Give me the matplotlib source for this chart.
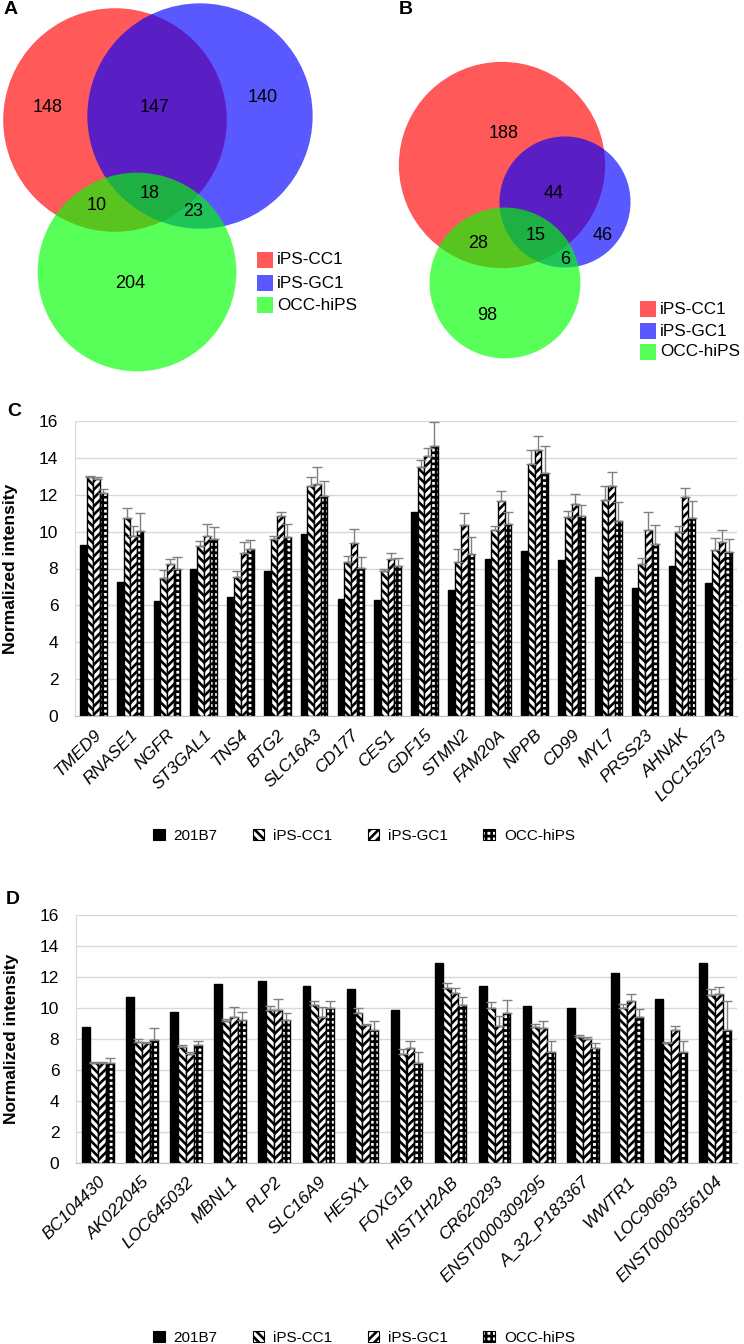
import numpy as np
import matplotlib
matplotlib.use('Agg')
import matplotlib.pyplot as plt
from matplotlib.patches import Circle, Rectangle, Patch

plt.rcParams['font.family'] = ['Liberation Sans', 'DejaVu Sans']
plt.rcParams['hatch.linewidth'] = 1.9

W, H = 744, 1344

# ---- Venn data ----
venn_sets = ['iPS-CC1', 'iPS-GC1', 'OCC-hiPS']
venn_regions = ['100', '110', '010', '101', '111', '011', '001']
counts_a = [148, 147, 140, 10, 18, 23, 204]
counts_b = [188, 44, 46, 28, 15, 6, 98]

# ---- bar data ----
groups = ['201B7', 'iPS-CC1', 'iPS-GC1', 'OCC-hiPS']

genes_c = ['TMED9', 'RNASE1', 'NGFR', 'ST3GAL1', 'TNS4', 'BTG2', 'SLC16A3', 'CD177', 'CES1',
           'GDF15', 'STMN2', 'FAM20A', 'NPPB', 'CD99', 'MYL7', 'PRSS23', 'AHNAK', 'LOC152573']
c_201b7 = [9.28, 7.28, 6.25, 7.96, 6.43, 7.89, 9.89, 6.36, 6.30, 11.08, 6.83, 8.52, 8.97, 8.47, 7.55, 6.92, 8.11, 7.21]
c_cc1 = [12.94, 10.74, 7.46, 9.24, 7.53, 9.59, 12.45, 8.34, 7.89, 13.48, 8.34, 10.09, 13.69, 10.79, 11.69, 8.23, 9.98, 9.03]
c_cc1_sd = [0.05, 0.52, 0.44, 0.26, 0.34, 0.19, 0.52, 0.34, 0.11, 0.42, 0.71, 0.21, 0.76, 0.31, 0.81, 0.35, 0.32, 0.63]
c_gc1 = [12.88, 9.78, 8.23, 9.77, 8.83, 10.85, 12.61, 9.37, 8.54, 14.11, 10.34, 11.66, 14.45, 11.48, 12.50, 10.09, 11.87, 9.42]
c_gc1_sd = [0.07, 0.52, 0.27, 0.63, 0.59, 0.23, 0.87, 0.79, 0.32, 0.45, 0.69, 0.52, 0.75, 0.57, 0.76, 0.99, 0.47, 0.69]
c_occ = [12.11, 10.04, 7.96, 9.59, 9.05, 9.71, 11.95, 8.05, 8.16, 14.67, 8.81, 10.40, 13.19, 10.85, 10.58, 9.32, 10.72, 8.92]
c_occ_sd = [0.19, 0.99, 0.64, 0.68, 0.48, 0.69, 0.79, 0.60, 0.42, 1.28, 0.92, 0.68, 1.44, 0.57, 1.02, 1.02, 0.94, 0.68]

genes_d = ['BC104430', 'AK022045', 'LOC645032', 'MBNL1', 'PLP2', 'SLC16A9', 'HESX1', 'FOXG1B',
           'HIST1H2AB', 'CR620293', 'ENST0000309295', 'A_32_P183367', 'WWTR1', 'LOC90693', 'ENST0000356104']
d_201b7 = [8.79, 10.68, 9.73, 11.52, 11.74, 11.41, 11.22, 9.86, 12.88, 11.43, 10.14, 10.01, 12.27, 10.57, 12.88]
d_cc1 = [6.42, 7.82, 7.49, 9.17, 9.90, 10.19, 9.65, 7.02, 11.26, 10.01, 8.79, 8.16, 10.01, 7.71, 10.81]
d_cc1_sd = [0.10, 0.15, 0.11, 0.15, 0.22, 0.28, 0.32, 0.32, 0.37, 0.35, 0.17, 0.11, 0.28, 0.11, 0.39]
d_gc1 = [6.46, 7.71, 7.06, 9.43, 9.90, 9.43, 8.89, 7.39, 10.94, 8.85, 8.70, 7.97, 10.47, 8.57, 10.90]
d_gc1_sd = [0.06, 0.11, 0.07, 0.65, 0.67, 0.65, 0.11, 0.49, 0.36, 0.65, 0.47, 0.13, 0.43, 0.28, 0.47]
d_occ = [6.42, 7.92, 7.60, 9.22, 9.22, 9.97, 8.57, 6.46, 10.19, 9.65, 7.19, 7.41, 9.39, 7.19, 8.61]
d_occ_sd = [0.38, 0.80, 0.28, 0.53, 0.43, 0.50, 0.60, 0.67, 0.49, 0.84, 0.69, 0.34, 0.56, 0.69, 1.81]

# ---- styling / layout ----
venn_colors = ['#ff0000', '#0000ff', '#00ff00']
venn_alpha = 0.65
legend_colors = ['#ff5959', '#5959ff', '#59ff59']
px_per_sqrt = 6.22  # circle radius in pixels per sqrt(set size)

layout_a = dict(centers=[(115, 120), (200, 116), (137, 272)],
                labels=[(48, 107), (155, 107), (263, 98), (97, 205), (150, 193), (193, 212), (130, 283)],
                legend=(257, [260, 283, 305]))
layout_b = dict(centers=[(502, 165), (565, 202), (505, 283)],
                labels=[(504, 133), (554, 193), (603, 235), (478, 243), (536, 235), (565, 260), (487, 315)],
                legend=(640, [309, 331, 352]))

bar_styles = [dict(color='black', hatch=None),
              dict(color='white', hatch='\\\\\\\\'),
              dict(color='white', hatch='////'),
              dict(color='white', hatch='+++')]

fig = plt.figure(figsize=(W / 100, H / 100), dpi=100)


def draw_venn(ax, counts, lay):
    for i in range(3):
        total = sum(c for r, c in zip(venn_regions, counts) if r[i] == '1')
        rad = px_per_sqrt * np.sqrt(total)
        ax.add_patch(Circle(lay['centers'][i], rad, facecolor=venn_colors[i], alpha=venn_alpha, lw=0))
    for (x, y), c in zip(lay['labels'], counts):
        ax.text(x, y, str(c), fontsize=13, ha='center', va='center')
    lx, ys = lay['legend']
    for y, name, col in zip(ys, venn_sets, legend_colors):
        ax.add_patch(Rectangle((lx, y - 8), 16, 16, facecolor=col, lw=0))
        ax.text(lx + 20, y, name, fontsize=12.3, ha='left', va='center')


vax = fig.add_axes([0, 1 - 380 / H, 1, 380 / H])
vax.set_xlim(0, W)
vax.set_ylim(380, 0)
vax.axis('off')
draw_venn(vax, counts_a, layout_a)
draw_venn(vax, counts_b, layout_b)


def bar_panel(rect, genes, series, sds, legend_y):
    ax = fig.add_axes(rect)
    x = np.arange(len(genes))
    w = 0.18
    for i, (vals, sty) in enumerate(zip(series, bar_styles)):
        kw = {}
        if sds[i] is not None:
            kw = dict(yerr=[np.zeros(len(vals)), sds[i]], ecolor='#808080', capsize=3.5,
                      error_kw=dict(elinewidth=1, capthick=1))
        ax.bar(x + (i - 1.5) * w, vals, w, color=sty['color'], edgecolor='black',
               hatch=sty['hatch'], linewidth=1.0, zorder=2, **kw)
    ax.set_xlim(-0.5, len(genes) - 0.5)
    ax.set_ylim(0, 16)
    ax.set_yticks(np.arange(0, 17, 2))
    ax.set_xticks(x)
    ax.set_xticklabels(genes, rotation=45, ha='right', rotation_mode='anchor', style='italic', fontsize=12.5)
    ax.tick_params(axis='x', length=0, pad=8)
    ax.tick_params(axis='y', length=0, pad=12, labelsize=12.5)
    ax.yaxis.grid(True, color='#d9d9d9', lw=1)
    ax.set_axisbelow(True)
    for s in ['top', 'right']:
        ax.spines[s].set_visible(False)
    ax.spines['left'].set_color('#d9d9d9')
    ax.spines['bottom'].set_color('#bfbfbf')
    ax.set_ylabel('Normalized intensity', fontsize=12.5, fontweight='bold')
    ax.yaxis.set_label_coords(-57 / (rect[2] * W), 0.5)
    handles = [Patch(facecolor=s['color'], edgecolor='black', hatch=s['hatch'], lw=0.8) for s in bar_styles]
    fig.legend(handles, groups, loc='center', bbox_to_anchor=(364 / W, 1 - legend_y / H), ncol=4,
               frameon=False, fontsize=11, handlelength=0.75, handleheight=0.75,
               handletextpad=0.6, columnspacing=2.3)
    return ax


bar_panel([75 / W, 1 - 716 / H, 662 / W, 295 / H], genes_c,
          [c_201b7, c_cc1, c_gc1, c_occ], [None, c_cc1_sd, c_gc1_sd, c_occ_sd], 836)
bar_panel([76 / W, 1 - 1163 / H, 661 / W, 248 / H], genes_d,
          [d_201b7, d_cc1, d_gc1, d_occ], [None, d_cc1_sd, d_gc1_sd, d_occ_sd], 1338)

for lab, (x, y) in zip('ABCD', [(11, 9), (406, 9), (14, 411), (13, 900)]):
    fig.text(x / W, 1 - y / H, lab, fontsize=14, fontweight='bold', ha='center', va='center')

fig.savefig('out.png', dpi=100)
